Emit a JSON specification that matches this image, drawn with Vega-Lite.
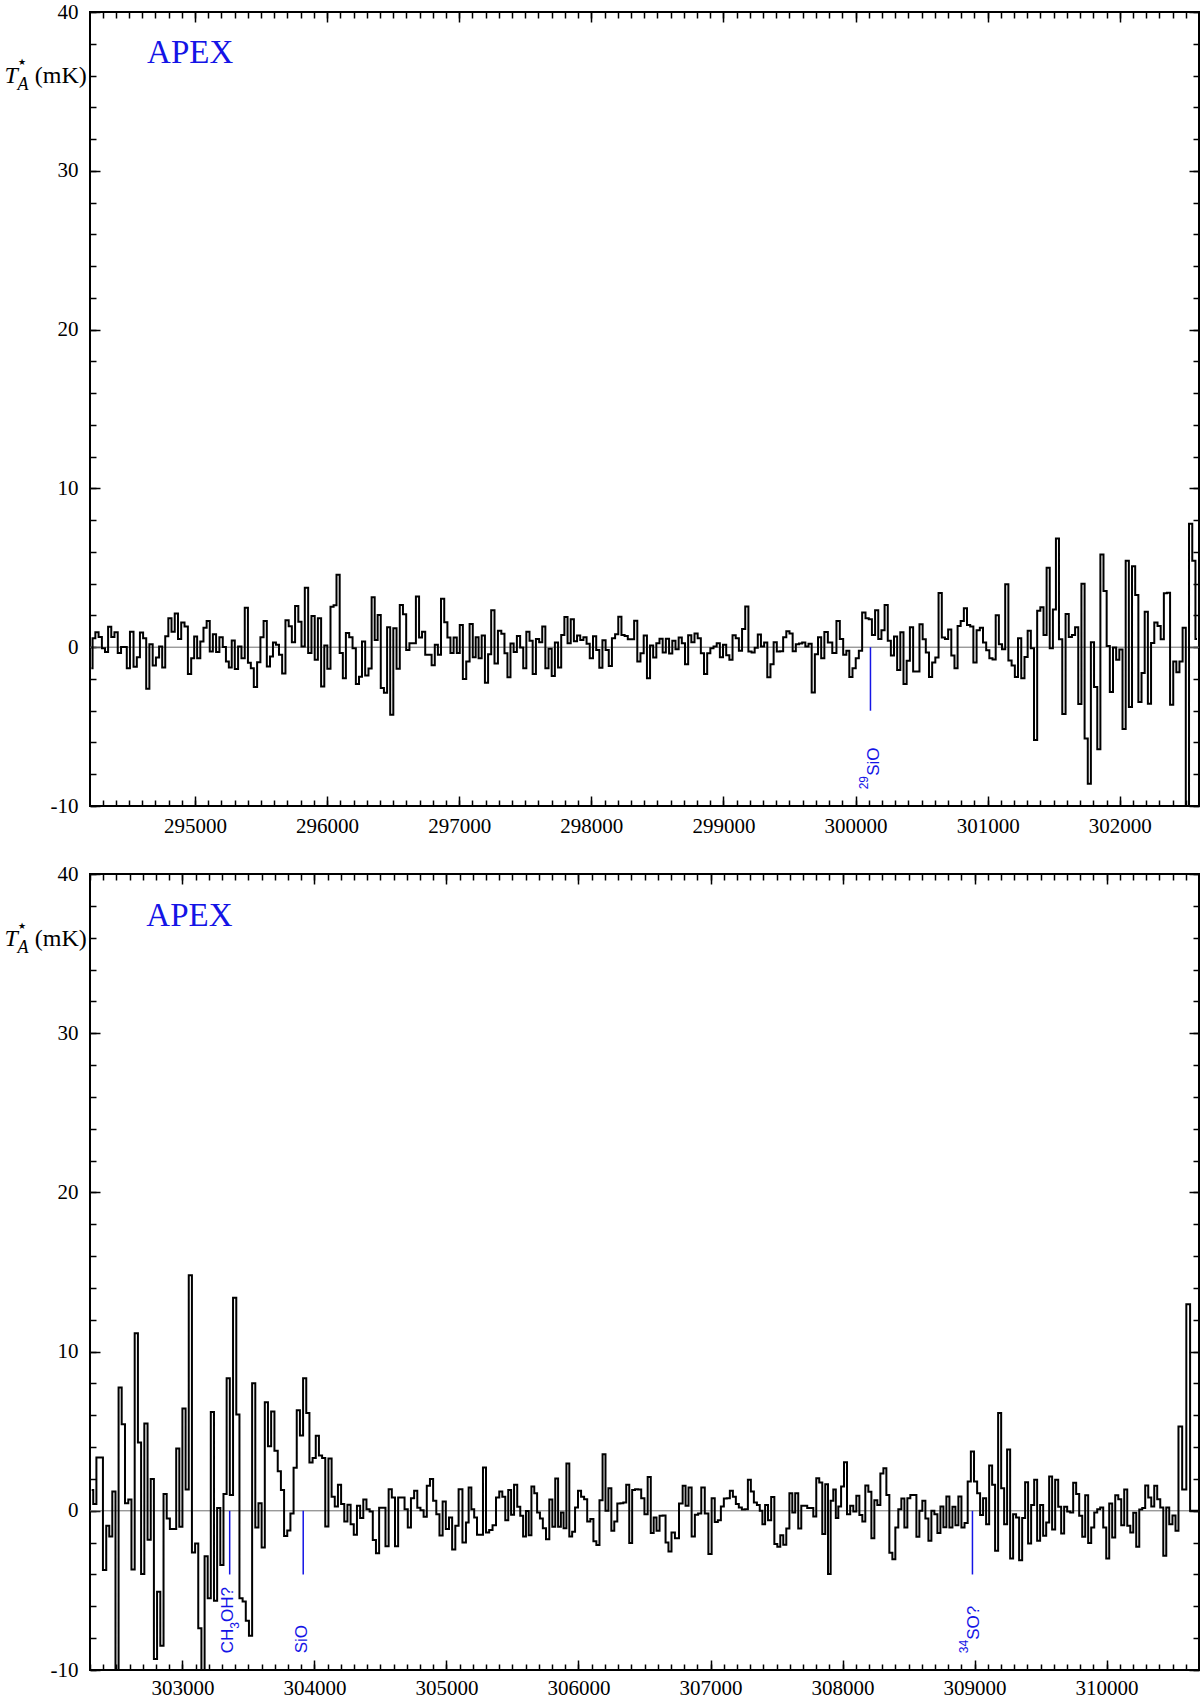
{
"$schema": "https://vega.github.io/schema/vega-lite/v6.json",
"padding": {"left": 3, "top": 0, "right": 0, "bottom": 2},
"background": "white",
"spacing": 68,
"bounds": "flush",
"config": {
 "font": "Liberation Serif",
 "view": {"stroke": "#000", "strokeWidth": 2},
 "axis": {"grid": false, "domain": false, "labelFont": "Liberation Serif", "labelFontSize": 21, "labelColor": "#000", "tickColor": "#000", "tickWidth": 1.5, "titleColor": "#000", "titleFontWeight": "normal", "labelFlush": false, "labelOverlap": false, "labelBound": false}
},
"datasets": {
 "top": [
{"f":294215,"t":-1.32},{"f":294234,"t":0.56},{"f":294257,"t":0.94},{"f":294283,"t":0.65},{"f":294307,"t":-0.06},{"f":294330,"t":-0.31},{"f":294354,"t":1.28},{"f":294378,"t":0.65},{"f":294402,"t":0.94},{"f":294428,"t":-0.36},{"f":294452,"t":0.02},{"f":294473,"t":0.02},{"f":294494,"t":-1.32},{"f":294521,"t":0.98},{"f":294548,"t":-1.23},{"f":294571,"t":-0.63},{"f":294595,"t":0.92},{"f":294619,"t":0.56},{"f":294642,"t":-2.62},{"f":294667,"t":0.19},{"f":294692,"t":-1.15},{"f":294716,"t":-0.65},{"f":294740,"t":0.04},{"f":294763,"t":-1.28},{"f":294786,"t":0.69},{"f":294810,"t":1.82},{"f":294834,"t":0.98},{"f":294859,"t":2.13},{"f":294883,"t":0.52},{"f":294908,"t":1.55},{"f":294933,"t":1.30},{"f":294959,"t":-1.69},{"f":294983,"t":-0.69},{"f":295004,"t":0.67},{"f":295028,"t":-0.69},{"f":295052,"t":0.36},{"f":295076,"t":1.23},{"f":295100,"t":1.65},{"f":295123,"t":-0.27},{"f":295147,"t":0.82},{"f":295172,"t":-0.31},{"f":295197,"t":0.63},{"f":295223,"t":0.02},{"f":295245,"t":-0.90},{"f":295267,"t":-1.28},{"f":295289,"t":0.42},{"f":295313,"t":-1.38},{"f":295339,"t":0.04},{"f":295364,"t":-0.69},{"f":295389,"t":2.49},{"f":295412,"t":-0.98},{"f":295433,"t":-1.32},{"f":295457,"t":-2.51},{"f":295483,"t":-0.94},{"f":295507,"t":0.63},{"f":295531,"t":1.65},{"f":295556,"t":-1.21},{"f":295579,"t":-0.59},{"f":295601,"t":0.29},{"f":295624,"t":0.15},{"f":295647,"t":-0.48},{"f":295672,"t":-1.65},{"f":295697,"t":1.69},{"f":295721,"t":1.32},{"f":295745,"t":0.31},{"f":295770,"t":2.59},{"f":295794,"t":1.61},{"f":295818,"t":0.04},{"f":295844,"t":3.74},{"f":295869,"t":-0.36},{"f":295894,"t":1.97},{"f":295918,"t":-0.79},{"f":295942,"t":1.82},{"f":295967,"t":-2.47},{"f":295990,"t":0.10},{"f":296013,"t":-1.36},{"f":296038,"t":2.55},{"f":296060,"t":2.64},{"f":296082,"t":4.56},{"f":296108,"t":-0.36},{"f":296130,"t":-1.95},{"f":296154,"t":0.90},{"f":296180,"t":0.63},{"f":296205,"t":-0.06},{"f":296230,"t":-2.32},{"f":296253,"t":-1.86},{"f":296275,"t":0.36},{"f":296301,"t":-1.78},{"f":296325,"t":-1.34},{"f":296349,"t":3.14},{"f":296371,"t":0.46},{"f":296394,"t":2.03},{"f":296418,"t":-2.57},{"f":296442,"t":-2.87},{"f":296466,"t":1.26},{"f":296489,"t":-4.25},{"f":296513,"t":1.19},{"f":296538,"t":-1.36},{"f":296562,"t":2.66},{"f":296586,"t":2.07},{"f":296611,"t":-0.17},{"f":296635,"t":0.25},{"f":296659,"t":0.25},{"f":296685,"t":3.20},{"f":296707,"t":0.61},{"f":296730,"t":0.98},{"f":296755,"t":-0.48},{"f":296779,"t":-0.48},{"f":296803,"t":-1.13},{"f":296827,"t":0.15},{"f":296850,"t":-0.48},{"f":296874,"t":3.05},{"f":296899,"t":1.57},{"f":296922,"t":0.61},{"f":296945,"t":-0.36},{"f":296970,"t":0.61},{"f":296993,"t":-0.36},{"f":297015,"t":1.40},
{"f":297040,"t":-2.0},{"f":297066,"t":-0.9},{"f":297091,"t":1.46},{"f":297114,"t":-0.63},{"f":297135,"t":0.63},{"f":297158,"t":-0.69},{"f":297182,"t":0.73},{"f":297207,"t":-2.24},{"f":297230,"t":-0.44},{"f":297254,"t":2.32},{"f":297280,"t":-1.03},{"f":297306,"t":1.03},{"f":297331,"t":0.84},{"f":297354,"t":-0.38},{"f":297376,"t":-1.90},{"f":297400,"t":0.23},{"f":297424,"t":-0.31},{"f":297449,"t":0.71},{"f":297473,"t":-0.02},{"f":297496,"t":-1.32},{"f":297520,"t":0.98},{"f":297544,"t":0.40},{"f":297568,"t":-1.69},{"f":297593,"t":0.52},{"f":297617,"t":0.31},{"f":297640,"t":1.30},{"f":297664,"t":-1.32},{"f":297688,"t":-0.10},{"f":297712,"t":-1.82},{"f":297736,"t":0.29},{"f":297760,"t":-1.28},{"f":297784,"t":0.77},{"f":297808,"t":1.90},{"f":297832,"t":0.25},{"f":297856,"t":1.76},{"f":297880,"t":0.38},{"f":297904,"t":0.73},{"f":297928,"t":0.46},{"f":297952,"t":0.63},{"f":297976,"t":0.21},{"f":298000,"t":-0.69},{"f":298025,"t":0.69},{"f":298049,"t":-0.17},{"f":298072,"t":-1.30},{"f":298096,"t":0.44},{"f":298120,"t":-0.17},{"f":298144,"t":-1.19},{"f":298168,"t":0.56},{"f":298192,"t":0.82},{"f":298216,"t":1.92},{"f":298240,"t":0.77},{"f":298264,"t":0.71},{"f":298288,"t":0.50},{"f":298312,"t":0.50},{"f":298336,"t":1.67},{"f":298360,"t":-0.90},{"f":298384,"t":-0.38},{"f":298409,"t":0.73},{"f":298433,"t":-1.95},{"f":298456,"t":0.10},{"f":298480,"t":-0.65},{"f":298504,"t":0.25},{"f":298528,"t":0.54},{"f":298552,"t":-0.33},{"f":298576,"t":0.54},{"f":298601,"t":-0.40},{"f":298625,"t":0.40},{"f":298649,"t":-0.13},{"f":298673,"t":0.61},{"f":298697,"t":0.25},{"f":298721,"t":-1.07},{"f":298745,"t":0.75},{"f":298769,"t":0.31},{"f":298793,"t":0.86},{"f":298817,"t":0.56},{"f":298841,"t":-0.38},{"f":298865,"t":-1.69},{"f":298889,"t":-0.38},{"f":298913,"t":-0.06},{"f":298937,"t":0.04},{"f":298961,"t":0.25},{"f":298985,"t":-0.63},{"f":299009,"t":0.15},{"f":299033,"t":-0.50},{"f":299057,"t":-0.79},{"f":299081,"t":0.75},{"f":299105,"t":0.56},{"f":299129,"t":-0.23},{"f":299153,"t":1.15},{"f":299177,"t":2.57},{"f":299201,"t":-0.27},{"f":299225,"t":-0.33},{"f":299248,"t":-0.04},{"f":299272,"t":0.80},{"f":299296,"t":0.04},{"f":299320,"t":0.29},{"f":299344,"t":-1.90},{"f":299368,"t":-1.07},{"f":299392,"t":0.31},{"f":299416,"t":-0.27},{"f":299440,"t":-0.25},{"f":299464,"t":0.63},{"f":299488,"t":1.00},{"f":299512,"t":0.86},{"f":299536,"t":-0.25},{"f":299560,"t":0.19},{"f":299584,"t":0.23},{"f":299608,"t":0.29},{"f":299632,"t":0.04},{"f":299656,"t":0.21},{"f":299680,"t":-2.85},{"f":299704,"t":-0.44},{"f":299728,"t":0.63},{"f":299752,"t":-0.69},{"f":299776,"t":0.96},{"f":299805,"t":0.30},
{"f":299843,"t":-0.36},{"f":299868,"t":1.65},{"f":299894,"t":0.52},{"f":299919,"t":-0.48},{"f":299942,"t":-0.23},{"f":299964,"t":-1.88},{"f":299990,"t":-1.32},{"f":300013,"t":-0.69},{"f":300037,"t":-0.23},{"f":300063,"t":2.18},{"f":300088,"t":1.82},{"f":300112,"t":1.76},{"f":300136,"t":0.77},{"f":300160,"t":2.32},{"f":300184,"t":0.52},{"f":300208,"t":1.07},{"f":300232,"t":2.66},{"f":300256,"t":0.40},{"f":300279,"t":-0.52},{"f":300303,"t":0.67},{"f":300327,"t":-1.44},{"f":300351,"t":0.94},{"f":300375,"t":-2.32},{"f":300399,"t":-0.86},{"f":300424,"t":1.26},{"f":300448,"t":-1.53},{"f":300472,"t":-1.53},{"f":300496,"t":1.44},{"f":300520,"t":0.50},{"f":300544,"t":-0.33},{"f":300568,"t":-1.88},{"f":300592,"t":-0.96},{"f":300616,"t":-0.65},{"f":300641,"t":3.41},{"f":300665,"t":0.61},{"f":300689,"t":0.52},{"f":300713,"t":1.11},{"f":300737,"t":-0.52},{"f":300761,"t":-1.32},{"f":300784,"t":1.34},{"f":300808,"t":1.65},{"f":300832,"t":2.45},{"f":300856,"t":1.40},{"f":300880,"t":1.30},{"f":300904,"t":-0.96},{"f":300929,"t":1.07},{"f":300953,"t":1.23},{"f":300977,"t":0.29},{"f":301001,"t":-0.19},{"f":301025,"t":-0.69},{"f":301049,"t":-0.77},{"f":301073,"t":2.01},{"f":301097,"t":0.19},{"f":301121,"t":-0.13},{"f":301145,"t":3.97},{"f":301169,"t":-0.84},{"f":301194,"t":-1.15},{"f":301218,"t":-1.88},{"f":301242,"t":0.56},{"f":301267,"t":-1.95},{"f":301291,"t":-0.61},{"f":301315,"t":1.03},{"f":301339,"t":-0.06},{"f":301363,"t":-5.84},{"f":301387,"t":2.30},{"f":301411,"t":2.51},{"f":301435,"t":0.77},{"f":301458,"t":5.0},{"f":301482,"t":-0.06},{"f":301506,"t":2.38},{"f":301528,"t":6.84},{"f":301552,"t":0.50},{"f":301578,"t":-4.21},{"f":301602,"t":2.09},{"f":301626,"t":0.65},{"f":301650,"t":0.77},{"f":301674,"t":1.26},{"f":301698,"t":-3.58},{"f":301722,"t":4.0},{"f":301746,"t":-5.75},{"f":301770,"t":-8.6},{"f":301793,"t":0.31},{"f":301818,"t":-2.51},{"f":301842,"t":-6.42},{"f":301865,"t":5.83},{"f":301889,"t":3.54},{"f":301913,"t":0.08},{"f":301937,"t":-2.82},{"f":301961,"t":-0.02},{"f":301985,"t":-0.79},{"f":302009,"t":-0.15},{"f":302033,"t":-5.15},{"f":302057,"t":5.44},{"f":302081,"t":-3.77},{"f":302105,"t":5.1},{"f":302129,"t":3.28},{"f":302153,"t":-3.45},{"f":302177,"t":-1.63},{"f":302201,"t":2.24},{"f":302225,"t":-3.56},{"f":302249,"t":0.27},{"f":302274,"t":1.55},{"f":302298,"t":1.34},{"f":302322,"t":0.50},{"f":302346,"t":3.39},{"f":302369,"t":3.43},{"f":302393,"t":-3.62},{"f":302417,"t":-0.90},{"f":302440,"t":-1.57},{"f":302464,"t":-0.90},{"f":302488,"t":1.23},{"f":302512,"t":-11},{"f":302537,"t":7.78},{"f":302561,"t":5.44},{"f":302585,"t":0.52}
 ],
 "bottom": [
{"f":302313,"t":1.30},{"f":302336,"t":0.42},{"f":302361,"t":3.35},{"f":302385,"t":3.35},{"f":302411,"t":-3.72},{"f":302435,"t":-0.94},{"f":302457,"t":-1.61},{"f":302481,"t":1.21},{"f":302505,"t":-10.5},{"f":302528,"t":7.74},{"f":302552,"t":5.44},{"f":302578,"t":0.48},{"f":302602,"t":0.71},{"f":302626,"t":-3.68},{"f":302651,"t":11.15},{"f":302675,"t":4.29},{"f":302699,"t":-3.97},{"f":302724,"t":5.48},{"f":302748,"t":-1.82},{"f":302772,"t":1.99},{"f":302796,"t":-9.31},{"f":302820,"t":-5.08},{"f":302845,"t":-8.47},{"f":302869,"t":1.05},{"f":302893,"t":-0.48},{"f":302917,"t":-1.15},{"f":302941,"t":-1.15},{"f":302965,"t":3.91},{"f":302988,"t":-1.0},{"f":303012,"t":6.42},{"f":303036,"t":1.34},{"f":303060,"t":14.79},{"f":303084,"t":-2.62},{"f":303108,"t":-2.05},{"f":303132,"t":-7.38},{"f":303156,"t":-10.3},{"f":303180,"t":-2.85},{"f":303203,"t":-5.50},{"f":303227,"t":6.21},{"f":303251,"t":-5.65},{"f":303275,"t":0.17},{"f":303299,"t":-3.41},{"f":303323,"t":1.05},{"f":303347,"t":8.33},{"f":303371,"t":1.0},{"f":303396,"t":13.39},{"f":303420,"t":6.05},{"f":303444,"t":-5.50},{"f":303468,"t":-5.69},{"f":303492,"t":-6.90},{"f":303516,"t":-7.85},{"f":303540,"t":8.01},{"f":303564,"t":-1.05},{"f":303588,"t":0.48},{"f":303612,"t":-2.30},{"f":303636,"t":6.82},{"f":303660,"t":4.06},{"f":303684,"t":6.23},{"f":303710,"t":3.77},{"f":303734,"t":2.49},{"f":303758,"t":1.30},{"f":303782,"t":-1.59},{"f":303806,"t":-1.23},{"f":303830,"t":-0.17},{"f":303854,"t":2.70},{"f":303878,"t":6.32},{"f":303902,"t":4.73},{"f":303926,"t":8.33},{"f":303950,"t":6.15},{"f":303974,"t":3.03},{"f":303998,"t":3.31},{"f":304022,"t":4.71},{"f":304046,"t":3.47},{"f":304070,"t":3.31},{"f":304094,"t":-0.98},{"f":304118,"t":3.28},{"f":304142,"t":0.88},{"f":304166,"t":0.27},{"f":304190,"t":1.63},{"f":304214,"t":0.42},{"f":304238,"t":-0.67},{"f":304262,"t":0.38},{"f":304286,"t":-0.84},{"f":304310,"t":-1.51},{"f":304334,"t":0.31},{"f":304358,"t":-0.46},{"f":304382,"t":0.71},{"f":304406,"t":0.10},{"f":304430,"t":-0.04},{"f":304454,"t":-1.84},{"f":304478,"t":-2.66},{"f":304502,"t":0.19},{"f":304526,"t":0.19},{"f":304550,"t":-2.22},{"f":304574,"t":1.36},{"f":304598,"t":0.84},{"f":304622,"t":-2.22},{"f":304646,"t":0.84},{"f":304670,"t":0.84},{"f":304695,"t":0.10},{"f":304719,"t":-1.05},{"f":304743,"t":0.79},{"f":304767,"t":1.26},{"f":304791,"t":0.19},{"f":304815,"t":0.04},{"f":304839,"t":-0.38},{"f":304863,"t":1.57},{"f":304887,"t":1.99},{"f":304911,"t":0.63},{"f":304935,"t":-0.21},{"f":304959,"t":-1.55},{"f":304983,"t":0.59},{"f":305007,"t":-1.15},{"f":305031,"t":-0.42},{"f":305055,"t":-2.43},{"f":305079,"t":-0.94},{"f":305105,"t":1.36},
{"f":305137,"t":-1.99},{"f":305158,"t":-0.73},{"f":305178,"t":1.46},{"f":305199,"t":0.10},{"f":305221,"t":-0.42},{"f":305242,"t":-1.51},{"f":305265,"t":-1.51},{"f":305288,"t":2.72},{"f":305311,"t":-1.36},{"f":305336,"t":-1.21},{"f":305362,"t":-0.90},{"f":305388,"t":0.84},{"f":305412,"t":1.21},{"f":305434,"t":0.88},{"f":305457,"t":-0.59},{"f":305479,"t":1.30},{"f":305500,"t":-0.25},{"f":305524,"t":1.63},{"f":305548,"t":0.25},{"f":305570,"t":-0.31},{"f":305591,"t":-1.61},{"f":305613,"t":-0.02},{"f":305633,"t":-1.53},{"f":305654,"t":1.53},{"f":305676,"t":1.11},{"f":305697,"t":-0.10},{"f":305719,"t":-0.48},{"f":305741,"t":-1.09},{"f":305767,"t":-1.78},{"f":305791,"t":0.71},{"f":305813,"t":-1.0},{"f":305835,"t":2.03},{"f":305856,"t":-1.0},{"f":305877,"t":-0.10},{"f":305897,"t":-1.09},{"f":305920,"t":2.97},{"f":305941,"t":-1.61},{"f":305963,"t":-1.32},{"f":305985,"t":0.21},{"f":306008,"t":1.26},{"f":306031,"t":0.88},{"f":306054,"t":0.73},{"f":306078,"t":-0.67},{"f":306102,"t":-0.52},{"f":306124,"t":-1.92},{"f":306147,"t":-2.15},{"f":306171,"t":0.67},{"f":306194,"t":3.56},{"f":306215,"t":0},{"f":306238,"t":1.42},{"f":306260,"t":-1.26},{"f":306282,"t":-0.67},{"f":306306,"t":0.46},{"f":306329,"t":0.48},{"f":306350,"t":0.52},{"f":306373,"t":1.63},{"f":306396,"t":-2.03},{"f":306417,"t":1.30},{"f":306440,"t":1.36},{"f":306463,"t":1.34},{"f":306487,"t":0.79},{"f":306512,"t":-0.21},{"f":306536,"t":2.13},{"f":306559,"t":-1.40},{"f":306580,"t":-0.42},{"f":306602,"t":-1.26},{"f":306626,"t":-0.31},{"f":306649,"t":-0.29},{"f":306670,"t":-1.99},{"f":306693,"t":-2.55},{"f":306716,"t":-1.36},{"f":306745,"t":-1.72},{"f":306778,"t":0.46},{"f":306800,"t":1.57},{"f":306822,"t":0.31},{"f":306845,"t":1.46},{"f":306869,"t":-1.61},{"f":306894,"t":-0.25},{"f":306918,"t":-0.17},{"f":306942,"t":1.46},{"f":306971,"t":-0.17},{"f":306997,"t":-2.72},{"f":307020,"t":0.79},{"f":307044,"t":-0.71},{"f":307067,"t":-0.59},{"f":307090,"t":0.27},{"f":307112,"t":0.77},{"f":307135,"t":0.79},{"f":307158,"t":1.26},{"f":307181,"t":0.88},{"f":307203,"t":0.42},{"f":307226,"t":0.21},{"f":307249,"t":0.08},{"f":307272,"t":0.10},{"f":307294,"t":1.95},{"f":307317,"t":1.21},{"f":307340,"t":0.52},{"f":307363,"t":0.36},{"f":307383,"t":0},{"f":307403,"t":-0.84},{"f":307424,"t":0.36},{"f":307447,"t":-0.59},{"f":307472,"t":0.86},{"f":307495,"t":-2.09},{"f":307517,"t":-2.26},{"f":307540,"t":-1.53},{"f":307562,"t":-2.13},{"f":307586,"t":-1.11},{"f":307609,"t":1.11},{"f":307630,"t":-0.10},{"f":307653,"t":1.11},{"f":307676,"t":-1.11},{"f":307699,"t":0.31},{"f":307721,"t":0.31},{"f":307744,"t":0.17},{"f":307767,"t":0.17},{"f":307790,"t":-0.36},{"f":307812,"t":2.05},{"f":307835,"t":1.78},{"f":307858,"t":-1.46},{"f":307880,"t":1.67},{"f":307900,"t":-3.97},
{"f":307920,"t":0.63},{"f":307940,"t":1.34},{"f":307958,"t":-0.46},{"f":307978,"t":0.27},{"f":308000,"t":1.53},{"f":308022,"t":3.05},{"f":308046,"t":-0.21},{"f":308070,"t":0.31},{"f":308093,"t":-0.04},{"f":308116,"t":0.94},{"f":308139,"t":-0.27},{"f":308161,"t":-0.67},{"f":308184,"t":1.59},{"f":308207,"t":1.19},{"f":308230,"t":-1.72},{"f":308252,"t":0.67},{"f":308275,"t":0.36},{"f":308298,"t":2.34},{"f":308321,"t":2.68},{"f":308343,"t":1.0},{"f":308366,"t":-2.64},{"f":308389,"t":-3.05},{"f":308411,"t":-1.05},{"f":308434,"t":0.10},{"f":308457,"t":0.77},{"f":308480,"t":-1.05},{"f":308502,"t":0.79},{"f":308525,"t":1.0},{"f":308548,"t":1.0},{"f":308571,"t":-1.63},{"f":308593,"t":0},{"f":308616,"t":0.63},{"f":308639,"t":-0.48},{"f":308662,"t":-1.88},{"f":308684,"t":0},{"f":308707,"t":-0.21},{"f":308730,"t":-1.40},{"f":308753,"t":0.27},{"f":308775,"t":-1.03},{"f":308798,"t":0.90},{"f":308821,"t":-1.05},{"f":308844,"t":0.25},{"f":308866,"t":-0.90},{"f":308889,"t":0.90},{"f":308912,"t":-1.05},{"f":308936,"t":-0.77},{"f":308960,"t":1.84},{"f":308984,"t":3.72},{"f":309008,"t":1.84},{"f":309031,"t":1.11},{"f":309053,"t":-0.27},{"f":309076,"t":0.79},{"f":309099,"t":-0.84},{"f":309122,"t":2.85},{"f":309144,"t":1.63},{"f":309167,"t":-2.51},{"f":309190,"t":6.15},{"f":309213,"t":1.42},{"f":309235,"t":-0.84},{"f":309258,"t":3.85},{"f":309281,"t":-2.99},{"f":309303,"t":-0.21},{"f":309326,"t":-0.42},{"f":309349,"t":-3.10},{"f":309372,"t":-0.46},{"f":309394,"t":1.80},{"f":309417,"t":-2.05},{"f":309440,"t":0.36},{"f":309463,"t":1.95},{"f":309485,"t":-1.88},{"f":309508,"t":0.36},{"f":309531,"t":-1.57},{"f":309554,"t":-0.73},{"f":309576,"t":2.15},{"f":309599,"t":-1.17},{"f":309622,"t":1.95},{"f":309645,"t":0.25},{"f":309667,"t":-1.42},{"f":309690,"t":0.25},{"f":309713,"t":-0.04},{"f":309736,"t":-0.10},{"f":309758,"t":1.76},{"f":309781,"t":1.05},{"f":309804,"t":-0.31},{"f":309827,"t":-1.63},{"f":309849,"t":0.98},{"f":309872,"t":-2.03},{"f":309895,"t":-1.05},{"f":309918,"t":-0.10},{"f":309940,"t":0.10},{"f":309963,"t":0.21},{"f":309986,"t":-1.05},{"f":310009,"t":-2.99},{"f":310031,"t":0.46},{"f":310054,"t":-1.67},{"f":310077,"t":0.98},{"f":310100,"t":0.73},{"f":310122,"t":-0.90},{"f":310145,"t":1.34},{"f":310168,"t":-0.94},{"f":310191,"t":-1.36},{"f":310213,"t":-0.13},{"f":310236,"t":-2.26},{"f":310259,"t":0.08},{"f":310281,"t":0.17},{"f":310304,"t":1.59},{"f":310327,"t":0.84},{"f":310350,"t":0.27},{"f":310372,"t":1.57},{"f":310395,"t":0.73},{"f":310418,"t":0.21},{"f":310441,"t":-2.82},{"f":310463,"t":0.21},{"f":310486,"t":-0.84},{"f":310512,"t":-0.29},{"f":310532,"t":-1.26},{"f":310557,"t":5.29},{"f":310588,"t":1.34},{"f":310620,"t":12.97},{"f":310645,"t":0},{"f":310670,"t":0},{"f":310700,"t":0}
 ],
 "linesTop": [{"f":300113,"label":"²⁹SiO"}],
 "linesBot": [{"f":303358,"label":"CH₃OH?"},{"f":303915,"label":"SiO"},{"f":308984,"label":"³⁴SO?"}]
},
"vconcat": [
 {
  "width": 1109, "height": 794,
  "data": {"name": "top"},
  "resolve": {"axis": {"x": "independent", "y": "independent"}},
  "layer": [
   {"mark": {"type": "line", "strokeOpacity": 0},
    "encoding": {
     "x": {"field": "f", "type": "quantitative", "scale": {"domain": [294205, 302600], "nice": false, "zero": false}, "axis": {"orient": "bottom", "values": [295000,296000,297000,298000,299000,300000,301000,302000], "format": "d", "ticks": false, "labelPadding": 9, "labelFont": "Liberation Serif", "labelFontSize": 21, "title": null}},
     "y": {"field": "t", "type": "quantitative", "scale": {"domain": [-10, 40], "nice": false, "zero": false}, "axis": {"orient": "left", "values": [-10,0,10,20,30,40], "labelExpr": "replace(datum.label, '−', '-')", "ticks": false, "labelPadding": 12, "labelFont": "Liberation Serif", "labelFontSize": 21, "title": "T", "titleFont": "Liberation Serif", "titleFontStyle": "italic", "titleFontSize": 24, "titleAngle": 0, "titleAlign": "left", "titleBaseline": "alphabetic", "titleX": -86, "titleY": 70}}
    }},
   {"data": {"values": [{}]},
    "mark": {"type": "rule", "color": "#6e6e6e", "strokeWidth": 1},
    "encoding": {"y": {"datum": 0, "type": "quantitative", "scale": {"domain": [-10, 40], "nice": false, "zero": false}, "axis": null}}},
   {"mark": {"type": "line", "interpolate": "step", "color": "#000", "strokeWidth": 2, "clip": true},
    "encoding": {
     "x": {"field": "f", "type": "quantitative", "scale": {"domain": [294205, 302600], "nice": false, "zero": false}, "axis": {"orient": "bottom", "values": [295000,296000,297000,298000,299000,300000,301000,302000], "labels": false, "tickSize": -10, "title": null}},
     "y": {"field": "t", "type": "quantitative", "scale": {"domain": [-10, 40], "nice": false, "zero": false}, "axis": {"orient": "left", "values": [-10,0,10,20,30,40], "labels": false, "tickSize": -10, "title": "A", "titleFont": "Liberation Serif", "titleFontStyle": "italic", "titleFontSize": 18, "titleAngle": 0, "titleAlign": "left", "titleBaseline": "alphabetic", "titleX": -73, "titleY": 77}}
    }},
   {"mark": {"type": "line", "strokeOpacity": 0},
    "encoding": {
     "x": {"field": "f", "type": "quantitative", "scale": {"domain": [294205, 302600], "nice": false, "zero": false}, "axis": {"orient": "bottom", "tickCount": 84, "labels": false, "tickSize": -6, "title": null}},
     "y": {"field": "t", "type": "quantitative", "scale": {"domain": [-10, 40], "nice": false, "zero": false}, "axis": {"orient": "left", "tickCount": 25, "labels": false, "tickSize": -6, "title": "★", "titleFont": "DejaVu Sans", "titleFontSize": 9, "titleAngle": 0, "titleAlign": "center", "titleBaseline": "middle", "titleX": -68.5, "titleY": 49.5}}
    }},
   {"mark": {"type": "line", "strokeOpacity": 0},
    "encoding": {
     "x": {"field": "f", "type": "quantitative", "scale": {"domain": [294205, 302600], "nice": false, "zero": false}, "axis": {"orient": "top", "values": [295000,296000,297000,298000,299000,300000,301000,302000], "labels": false, "tickSize": -10, "title": null}},
     "y": {"field": "t", "type": "quantitative", "scale": {"domain": [-10, 40], "nice": false, "zero": false}, "axis": {"orient": "right", "values": [-10,0,10,20,30,40], "labels": false, "tickSize": -10, "title": "(mK)", "titleFont": "Liberation Serif", "titleFontSize": 24, "titleAngle": 0, "titleAlign": "left", "titleBaseline": "alphabetic", "titleX": -1164.7, "titleY": 70}}
    }},
   {"mark": {"type": "line", "strokeOpacity": 0},
    "encoding": {
     "x": {"field": "f", "type": "quantitative", "scale": {"domain": [294205, 302600], "nice": false, "zero": false}, "axis": {"orient": "top", "tickCount": 84, "labels": false, "tickSize": -6, "title": null}},
     "y": {"field": "t", "type": "quantitative", "scale": {"domain": [-10, 40], "nice": false, "zero": false}, "axis": {"orient": "right", "tickCount": 25, "labels": false, "tickSize": -6, "title": null}}
    }},
   {"data": {"name": "linesTop"},
    "mark": {"type": "rule", "color": "#1414e6", "strokeWidth": 1.5},
    "encoding": {
     "x": {"field": "f", "type": "quantitative", "scale": {"domain": [294205, 302600], "nice": false, "zero": false}, "axis": null},
     "y": {"datum": 0, "type": "quantitative", "scale": {"domain": [-10, 40], "nice": false, "zero": false}, "axis": null},
     "y2": {"datum": -4}
    }},
   {"data": {"values": [{"f":300113,"part":"29"}]},
    "mark": {"type": "text", "angle": 270, "align": "left", "baseline": "middle", "font": "Liberation Sans", "fontSize": 12, "dy": -6, "color": "#1414e6"},
    "encoding": {
     "x": {"field": "f", "type": "quantitative", "scale": {"domain": [294205, 302600], "nice": false, "zero": false}, "axis": null},
     "y": {"datum": -8.95, "type": "quantitative", "scale": {"domain": [-10, 40], "nice": false, "zero": false}, "axis": null},
     "text": {"field": "part"}
    }},
   {"data": {"values": [{"f":300113,"part":"SiO"}]},
    "mark": {"type": "text", "angle": 270, "align": "left", "baseline": "middle", "font": "Liberation Sans", "fontSize": 17, "dx": 13.5, "dy": 4, "color": "#1414e6"},
    "encoding": {
     "x": {"field": "f", "type": "quantitative", "scale": {"domain": [294205, 302600], "nice": false, "zero": false}, "axis": null},
     "y": {"datum": -8.95, "type": "quantitative", "scale": {"domain": [-10, 40], "nice": false, "zero": false}, "axis": null},
     "text": {"field": "part"}
    }},
   {"data": {"values": [{}]},
    "mark": {"type": "text", "align": "left", "baseline": "alphabetic", "font": "Liberation Serif", "fontSize": 33, "color": "#1414e6"},
    "encoding": {
     "x": {"datum": 294637, "type": "quantitative", "scale": {"domain": [294205, 302600], "nice": false, "zero": false}, "axis": null},
     "y": {"datum": 36.8, "type": "quantitative", "scale": {"domain": [-10, 40], "nice": false, "zero": false}, "axis": null},
     "text": {"value": "APEX"}
    }}
  ]
 },
 {
  "width": 1109, "height": 796,
  "data": {"name": "bottom"},
  "resolve": {"axis": {"x": "independent", "y": "independent"}},
  "layer": [
   {"mark": {"type": "line", "strokeOpacity": 0},
    "encoding": {
     "x": {"field": "f", "type": "quantitative", "scale": {"domain": [302300, 310700], "nice": false, "zero": false}, "axis": {"orient": "bottom", "values": [303000,304000,305000,306000,307000,308000,309000,310000], "format": "d", "ticks": false, "labelPadding": 7, "labelFont": "Liberation Serif", "labelFontSize": 21, "title": null}},
     "y": {"field": "t", "type": "quantitative", "scale": {"domain": [-10, 40], "nice": false, "zero": false}, "axis": {"orient": "left", "values": [-10,0,10,20,30,40], "labelExpr": "replace(datum.label, '−', '-')", "ticks": false, "labelPadding": 12, "labelFont": "Liberation Serif", "labelFontSize": 21, "title": "T", "titleFont": "Liberation Serif", "titleFontStyle": "italic", "titleFontSize": 24, "titleAngle": 0, "titleAlign": "left", "titleBaseline": "alphabetic", "titleX": -86, "titleY": 71.5}}
    }},
   {"data": {"values": [{}]},
    "mark": {"type": "rule", "color": "#6e6e6e", "strokeWidth": 1},
    "encoding": {"y": {"datum": 0, "type": "quantitative", "scale": {"domain": [-10, 40], "nice": false, "zero": false}, "axis": null}}},
   {"mark": {"type": "line", "interpolate": "step", "color": "#000", "strokeWidth": 2, "clip": true},
    "encoding": {
     "x": {"field": "f", "type": "quantitative", "scale": {"domain": [302300, 310700], "nice": false, "zero": false}, "axis": {"orient": "bottom", "values": [303000,304000,305000,306000,307000,308000,309000,310000], "labels": false, "tickSize": -10, "title": null}},
     "y": {"field": "t", "type": "quantitative", "scale": {"domain": [-10, 40], "nice": false, "zero": false}, "axis": {"orient": "left", "values": [-10,0,10,20,30,40], "labels": false, "tickSize": -10, "title": "A", "titleFont": "Liberation Serif", "titleFontStyle": "italic", "titleFontSize": 18, "titleAngle": 0, "titleAlign": "left", "titleBaseline": "alphabetic", "titleX": -73, "titleY": 78.5}}
    }},
   {"mark": {"type": "line", "strokeOpacity": 0},
    "encoding": {
     "x": {"field": "f", "type": "quantitative", "scale": {"domain": [302300, 310700], "nice": false, "zero": false}, "axis": {"orient": "bottom", "tickCount": 84, "labels": false, "tickSize": -6, "title": null}},
     "y": {"field": "t", "type": "quantitative", "scale": {"domain": [-10, 40], "nice": false, "zero": false}, "axis": {"orient": "left", "tickCount": 25, "labels": false, "tickSize": -6, "title": "★", "titleFont": "DejaVu Sans", "titleFontSize": 9, "titleAngle": 0, "titleAlign": "center", "titleBaseline": "middle", "titleX": -68.5, "titleY": 51}}
    }},
   {"mark": {"type": "line", "strokeOpacity": 0},
    "encoding": {
     "x": {"field": "f", "type": "quantitative", "scale": {"domain": [302300, 310700], "nice": false, "zero": false}, "axis": {"orient": "top", "values": [303000,304000,305000,306000,307000,308000,309000,310000], "labels": false, "tickSize": -10, "title": null}},
     "y": {"field": "t", "type": "quantitative", "scale": {"domain": [-10, 40], "nice": false, "zero": false}, "axis": {"orient": "right", "values": [-10,0,10,20,30,40], "labels": false, "tickSize": -10, "title": "(mK)", "titleFont": "Liberation Serif", "titleFontSize": 24, "titleAngle": 0, "titleAlign": "left", "titleBaseline": "alphabetic", "titleX": -1164.7, "titleY": 71.5}}
    }},
   {"mark": {"type": "line", "strokeOpacity": 0},
    "encoding": {
     "x": {"field": "f", "type": "quantitative", "scale": {"domain": [302300, 310700], "nice": false, "zero": false}, "axis": {"orient": "top", "tickCount": 84, "labels": false, "tickSize": -6, "title": null}},
     "y": {"field": "t", "type": "quantitative", "scale": {"domain": [-10, 40], "nice": false, "zero": false}, "axis": {"orient": "right", "tickCount": 25, "labels": false, "tickSize": -6, "title": null}}
    }},
   {"data": {"name": "linesBot"},
    "mark": {"type": "rule", "color": "#1414e6", "strokeWidth": 1.5},
    "encoding": {
     "x": {"field": "f", "type": "quantitative", "scale": {"domain": [302300, 310700], "nice": false, "zero": false}, "axis": null},
     "y": {"datum": 0, "type": "quantitative", "scale": {"domain": [-10, 40], "nice": false, "zero": false}, "axis": null},
     "y2": {"datum": -4}
    }},
   {"data": {"values": [{"f":303358,"part":"CH"}]},
    "mark": {"type": "text", "angle": 270, "align": "left", "baseline": "middle", "font": "Liberation Sans", "fontSize": 17, "dy": -2, "color": "#1414e6"},
    "encoding": {
     "x": {"field": "f", "type": "quantitative", "scale": {"domain": [302300, 310700], "nice": false, "zero": false}, "axis": null},
     "y": {"datum": -8.95, "type": "quantitative", "scale": {"domain": [-10, 40], "nice": false, "zero": false}, "axis": null},
     "text": {"field": "part"}
    }},
   {"data": {"values": [{"f":303358,"part":"3"}]},
    "mark": {"type": "text", "angle": 270, "align": "left", "baseline": "middle", "font": "Liberation Sans", "fontSize": 12, "dx": 24.5, "dy": 5, "color": "#1414e6"},
    "encoding": {
     "x": {"field": "f", "type": "quantitative", "scale": {"domain": [302300, 310700], "nice": false, "zero": false}, "axis": null},
     "y": {"datum": -8.95, "type": "quantitative", "scale": {"domain": [-10, 40], "nice": false, "zero": false}, "axis": null},
     "text": {"field": "part"}
    }},
   {"data": {"values": [{"f":303915,"part":"SiO"}]},
    "mark": {"type": "text", "angle": 270, "align": "left", "baseline": "middle", "font": "Liberation Sans", "fontSize": 17, "dy": -1, "color": "#1414e6"},
    "encoding": {
     "x": {"field": "f", "type": "quantitative", "scale": {"domain": [302300, 310700], "nice": false, "zero": false}, "axis": null},
     "y": {"datum": -8.95, "type": "quantitative", "scale": {"domain": [-10, 40], "nice": false, "zero": false}, "axis": null},
     "text": {"field": "part"}
    }},
   {"data": {"values": [{"f":303358,"part":"OH?"}]},
    "mark": {"type": "text", "angle": 270, "align": "left", "baseline": "middle", "font": "Liberation Sans", "fontSize": 17, "dx": 31.2, "dy": -2, "color": "#1414e6"},
    "encoding": {
     "x": {"field": "f", "type": "quantitative", "scale": {"domain": [302300, 310700], "nice": false, "zero": false}, "axis": null},
     "y": {"datum": -8.95, "type": "quantitative", "scale": {"domain": [-10, 40], "nice": false, "zero": false}, "axis": null},
     "text": {"field": "part"}
    }},
   {"data": {"values": [{"f":308984,"part":"34"}]},
    "mark": {"type": "text", "angle": 270, "align": "left", "baseline": "middle", "font": "Liberation Sans", "fontSize": 12, "dy": -8, "color": "#1414e6"},
    "encoding": {
     "x": {"field": "f", "type": "quantitative", "scale": {"domain": [302300, 310700], "nice": false, "zero": false}, "axis": null},
     "y": {"datum": -8.95, "type": "quantitative", "scale": {"domain": [-10, 40], "nice": false, "zero": false}, "axis": null},
     "text": {"field": "part"}
    }},
   {"data": {"values": [{"f":308984,"part":"SO?"}]},
    "mark": {"type": "text", "angle": 270, "align": "left", "baseline": "middle", "font": "Liberation Sans", "fontSize": 17, "dx": 13.5, "dy": 2, "color": "#1414e6"},
    "encoding": {
     "x": {"field": "f", "type": "quantitative", "scale": {"domain": [302300, 310700], "nice": false, "zero": false}, "axis": null},
     "y": {"datum": -8.95, "type": "quantitative", "scale": {"domain": [-10, 40], "nice": false, "zero": false}, "axis": null},
     "text": {"field": "part"}
    }},
   {"data": {"values": [{}]},
    "mark": {"type": "text", "align": "left", "baseline": "alphabetic", "font": "Liberation Serif", "fontSize": 33, "color": "#1414e6"},
    "encoding": {
     "x": {"datum": 302727, "type": "quantitative", "scale": {"domain": [302300, 310700], "nice": false, "zero": false}, "axis": null},
     "y": {"datum": 36.75, "type": "quantitative", "scale": {"domain": [-10, 40], "nice": false, "zero": false}, "axis": null},
     "text": {"value": "APEX"}
    }}
  ]
 }
]
}
